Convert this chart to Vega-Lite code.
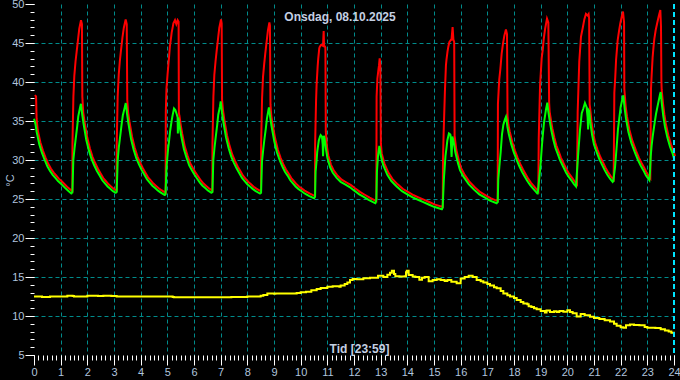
{
"$schema": "https://vega.github.io/schema/vega-lite/v6.json",
"width": 640, "height": 351,
"autosize": {"type": "none"},
"padding": {"left": 34, "top": 4, "right": 6, "bottom": 25},
"background": "#000000",
"title": {"text": "Onsdag, 08.10.2025", "anchor": "middle", "offset": -31, "baseline": "middle", "dx": -14, "fontSize": 12, "fontWeight": "bold", "font": "Liberation Sans", "color": "#c4cfe2"},
"config": {"view": {"stroke": null}, "axis": {"domain": false, "labelFont": "Liberation Sans", "titleFont": "Liberation Sans"}},
"datasets": {
"rg": [
{"t":0,"r":38.2,"g":35.3},{"t":0.04,"r":38.0,"g":34.8},{"t":0.06,"r":35.2,"g":34.5},{"t":0.1,"r":33.75,"g":33.6},{"t":0.2,"r":32.15,"g":32.0},{"t":0.3,"r":31.05,"g":30.9},{"t":0.4,"r":30.15,"g":30.0},{"t":0.5,"r":29.35,"g":29.2},{"t":0.6,"r":28.75,"g":28.6},{"t":0.7,"r":28.25,"g":28.1},{"t":0.8,"r":27.85,"g":27.7},{"t":0.9,"r":27.45,"g":27.3},{"t":1.0,"r":27.15,"g":27.0},{"t":1.1,"r":26.8,"g":26.65},{"t":1.2,"r":26.45,"g":26.3},{"t":1.3,"r":26.15,"g":26.0},{"t":1.4,"r":25.85,"g":25.7},
{"t":1.405,"r":32.0,"g":25.7},{"t":1.44,"r":38.0,"g":25.9},{"t":1.475,"r":40.7,"g":30.0},{"t":1.52,"r":42.5,"g":31.5},{"t":1.56,"r":43.7,"g":32.6},{"t":1.62,"r":45.5,"g":34.3},{"t":1.66,"r":46.7,"g":35.6},{"t":1.725,"r":47.8,"g":36.7},{"t":1.76,"r":47.3,"g":37.2},{"t":1.775,"r":38.0,"g":36.7},
{"t":1.81,"r":35.95,"g":35.8},{"t":1.86,"r":34.75,"g":34.6},{"t":1.96,"r":32.75,"g":32.6},{"t":2.06,"r":31.35,"g":31.2},{"t":2.16,"r":30.25,"g":30.1},{"t":2.26,"r":29.45,"g":29.3},{"t":2.36,"r":28.75,"g":28.6},{"t":2.46,"r":28.15,"g":28.0},{"t":2.56,"r":27.55,"g":27.4},{"t":2.66,"r":27.15,"g":27.0},{"t":2.76,"r":26.75,"g":26.6},{"t":2.86,"r":26.45,"g":26.3},{"t":2.96,"r":26.15,"g":26.0},{"t":3.06,"r":25.95,"g":25.8},
{"t":3.065,"r":32.0,"g":25.8},{"t":3.10,"r":38.0,"g":25.9},{"t":3.14,"r":40.8,"g":30.0},{"t":3.18,"r":42.5,"g":31.6},{"t":3.22,"r":43.8,"g":32.7},{"t":3.28,"r":45.6,"g":34.4},{"t":3.33,"r":46.8,"g":35.7},{"t":3.40,"r":47.9,"g":36.7},{"t":3.44,"r":47.3,"g":37.3},{"t":3.46,"r":37.6,"g":36.8},
{"t":3.49,"r":36.05,"g":35.9},{"t":3.54,"r":34.85,"g":34.7},{"t":3.64,"r":32.85,"g":32.7},{"t":3.74,"r":31.45,"g":31.3},{"t":3.84,"r":30.35,"g":30.2},{"t":3.94,"r":29.55,"g":29.4},{"t":4.04,"r":28.85,"g":28.7},{"t":4.14,"r":28.25,"g":28.1},{"t":4.24,"r":27.65,"g":27.5},{"t":4.34,"r":27.25,"g":27.1},{"t":4.44,"r":26.85,"g":26.7},{"t":4.54,"r":26.55,"g":26.4},{"t":4.64,"r":26.25,"g":26.1},{"t":4.74,"r":26.0,"g":25.85},{"t":4.90,"r":25.65,"g":25.5},
{"t":4.905,"r":36.0,"g":25.5},{"t":4.93,"r":39.0,"g":25.6},{"t":4.97,"r":40.8,"g":29.0},{"t":5.0,"r":42.0,"g":30.3},{"t":5.03,"r":43.2,"g":31.5},{"t":5.06,"r":44.5,"g":32.3},{"t":5.1,"r":45.5,"g":33.6},{"t":5.125,"r":46.2,"g":34.2},{"t":5.17,"r":47.0,"g":35.2},{"t":5.19,"r":47.4,"g":35.6},{"t":5.25,"r":47.8,"g":36.6},{"t":5.3,"r":47.3,"g":36.4},{"t":5.35,"r":47.8,"g":35.9},{"t":5.385,"r":47.6,"g":35.5},{"t":5.395,"r":36.0,"g":33.4},{"t":5.41,"r":35.6,"g":35.4},{"t":5.42,"r":35.45,"g":35.3},
{"t":5.47,"r":34.25,"g":34.1},{"t":5.52,"r":33.25,"g":33.1},{"t":5.62,"r":31.55,"g":31.4},{"t":5.72,"r":30.45,"g":30.3},{"t":5.82,"r":29.45,"g":29.3},{"t":5.92,"r":28.85,"g":28.7},{"t":6.02,"r":28.25,"g":28.1},{"t":6.12,"r":27.75,"g":27.6},{"t":6.22,"r":27.25,"g":27.1},{"t":6.32,"r":26.85,"g":26.7},{"t":6.42,"r":26.55,"g":26.4},{"t":6.52,"r":26.25,"g":26.1},{"t":6.65,"r":25.95,"g":25.8},
{"t":6.655,"r":32.0,"g":25.8},{"t":6.69,"r":38.0,"g":25.9},{"t":6.725,"r":40.8,"g":30.0},{"t":6.77,"r":42.5,"g":31.6},{"t":6.81,"r":43.8,"g":32.8},{"t":6.87,"r":45.6,"g":34.5},{"t":6.91,"r":46.8,"g":35.8},{"t":6.975,"r":47.9,"g":36.9},{"t":7.0,"r":47.4,"g":37.5},{"t":7.015,"r":37.6,"g":37.1},
{"t":7.05,"r":36.25,"g":36.1},{"t":7.1,"r":35.05,"g":34.9},{"t":7.2,"r":33.05,"g":32.9},{"t":7.3,"r":31.65,"g":31.5},{"t":7.4,"r":30.55,"g":30.4},{"t":7.5,"r":29.75,"g":29.6},{"t":7.6,"r":29.05,"g":28.9},{"t":7.7,"r":28.45,"g":28.3},{"t":7.8,"r":27.85,"g":27.7},{"t":7.9,"r":27.45,"g":27.3},{"t":8.0,"r":27.05,"g":26.9},{"t":8.1,"r":26.75,"g":26.6},{"t":8.2,"r":26.45,"g":26.3},{"t":8.3,"r":26.2,"g":26.05},{"t":8.475,"r":25.85,"g":25.7},
{"t":8.48,"r":32.0,"g":25.7},{"t":8.515,"r":37.8,"g":25.8},{"t":8.55,"r":40.5,"g":29.8},{"t":8.595,"r":42.2,"g":31.3},{"t":8.635,"r":43.5,"g":32.5},{"t":8.695,"r":45.3,"g":34.1},{"t":8.735,"r":46.5,"g":35.3},{"t":8.79,"r":47.5,"g":36.4},{"t":8.81,"r":47.1,"g":36.75},{"t":8.83,"r":37.0,"g":36.2},
{"t":8.86,"r":35.55,"g":35.4},{"t":8.91,"r":34.45,"g":34.3},{"t":9.01,"r":32.55,"g":32.4},{"t":9.11,"r":31.15,"g":31.0},{"t":9.21,"r":30.15,"g":30.0},{"t":9.31,"r":29.35,"g":29.2},{"t":9.41,"r":28.65,"g":28.5},{"t":9.51,"r":28.15,"g":28.0},{"t":9.61,"r":27.55,"g":27.4},{"t":9.71,"r":27.15,"g":27.0},{"t":9.81,"r":26.75,"g":26.6},{"t":9.91,"r":26.45,"g":26.3},{"t":10.01,"r":26.2,"g":26.05},{"t":10.11,"r":25.95,"g":25.8},{"t":10.21,"r":25.75,"g":25.6},{"t":10.31,"r":25.55,"g":25.4},{"t":10.5,"r":25.25,"g":25.1},
{"t":10.505,"r":32.0,"g":25.1},{"t":10.54,"r":37.5,"g":25.3},{"t":10.56,"r":39.5,"g":28.5},{"t":10.6,"r":41.9,"g":30.0},{"t":10.62,"r":42.8,"g":31.0},{"t":10.66,"r":44.2,"g":32.0},{"t":10.68,"r":44.4,"g":32.5},{"t":10.725,"r":44.6,"g":33.0},{"t":10.75,"r":44.6,"g":33.2},{"t":10.8,"r":44.5,"g":33.0},{"t":10.825,"r":46.4,"g":32.0},{"t":10.84,"r":44.6,"g":30.5},{"t":10.87,"r":44.4,"g":33.1},{"t":10.89,"r":44.3,"g":32.9},{"t":10.905,"r":33.5,"g":32.6},
{"t":10.95,"r":31.55,"g":31.4},{"t":11.0,"r":30.45,"g":30.3},{"t":11.1,"r":29.25,"g":29.1},{"t":11.2,"r":28.55,"g":28.4},{"t":11.35,"r":27.85,"g":27.7},{"t":11.5,"r":27.35,"g":27.2},{"t":11.65,"r":27.05,"g":26.9},{"t":11.85,"r":26.65,"g":26.5},{"t":12.0,"r":26.25,"g":26.1},{"t":12.2,"r":25.75,"g":25.6},{"t":12.35,"r":25.45,"g":25.3},{"t":12.55,"r":25.05,"g":24.9},{"t":12.8,"r":24.6,"g":24.45},
{"t":12.81,"r":38.0,"g":24.5},{"t":12.84,"r":40.3,"g":25.0},{"t":12.86,"r":40.9,"g":28.5},{"t":12.88,"r":41.5,"g":29.5},{"t":12.9,"r":42.0,"g":30.5},{"t":12.925,"r":42.9,"g":31.2},{"t":12.95,"r":42.0,"g":31.8},{"t":12.97,"r":32.0,"g":31.5},
{"t":13.0,"r":30.75,"g":30.6},{"t":13.1,"r":29.45,"g":29.3},{"t":13.25,"r":28.25,"g":28.1},{"t":13.4,"r":27.45,"g":27.3},{"t":13.6,"r":26.75,"g":26.6},{"t":13.8,"r":26.15,"g":26.0},{"t":14.0,"r":25.75,"g":25.6},{"t":14.2,"r":25.35,"g":25.2},{"t":14.4,"r":25.05,"g":24.9},{"t":14.6,"r":24.75,"g":24.6},{"t":14.8,"r":24.45,"g":24.3},{"t":15.0,"r":24.15,"g":24.0},{"t":15.29,"r":23.85,"g":23.7},
{"t":15.3,"r":30.0,"g":23.7},{"t":15.325,"r":33.4,"g":23.9},{"t":15.37,"r":38.5,"g":27.5},{"t":15.41,"r":42.0,"g":29.5},{"t":15.43,"r":42.7,"g":30.5},{"t":15.47,"r":43.8,"g":31.6},{"t":15.5,"r":44.4,"g":32.5},{"t":15.54,"r":45.0,"g":33.1},{"t":15.56,"r":45.1,"g":33.4},{"t":15.6,"r":45.3,"g":33.3},{"t":15.62,"r":45.3,"g":33.2},{"t":15.66,"r":46.9,"g":30.4},{"t":15.69,"r":45.3,"g":33.0},{"t":15.72,"r":45.0,"g":32.6},{"t":15.735,"r":33.0,"g":32.4},
{"t":15.8,"r":31.15,"g":31.0},{"t":15.9,"r":29.75,"g":29.6},{"t":15.975,"r":28.85,"g":28.7},{"t":16.1,"r":28.05,"g":27.9},{"t":16.3,"r":27.05,"g":26.9},{"t":16.5,"r":26.35,"g":26.2},{"t":16.7,"r":25.75,"g":25.6},{"t":16.9,"r":25.35,"g":25.2},{"t":17.1,"r":24.95,"g":24.8},{"t":17.35,"r":24.6,"g":24.45},
{"t":17.36,"r":37.0,"g":24.5},{"t":17.39,"r":39.0,"g":24.6},{"t":17.41,"r":40.2,"g":27.5},{"t":17.45,"r":41.5,"g":29.1},{"t":17.5,"r":43.5,"g":31.0},{"t":17.55,"r":44.8,"g":33.3},{"t":17.6,"r":45.8,"g":34.5},{"t":17.66,"r":46.6,"g":35.2},{"t":17.7,"r":46.0,"g":35.55},{"t":17.72,"r":35.5,"g":35.2},
{"t":17.75,"r":34.45,"g":34.3},{"t":17.8,"r":33.55,"g":33.4},{"t":17.9,"r":32.15,"g":32.0},{"t":18.0,"r":31.05,"g":30.9},{"t":18.1,"r":30.15,"g":30.0},{"t":18.2,"r":29.35,"g":29.2},{"t":18.3,"r":28.65,"g":28.5},{"t":18.4,"r":28.05,"g":27.9},{"t":18.5,"r":27.45,"g":27.3},{"t":18.6,"r":26.95,"g":26.8},{"t":18.7,"r":26.55,"g":26.4},{"t":18.8,"r":26.15,"g":26.0},{"t":18.875,"r":25.85,"g":25.7},
{"t":18.89,"r":32.6,"g":25.7},{"t":18.94,"r":39.5,"g":27.4},{"t":19.0,"r":42.9,"g":29.6},{"t":19.04,"r":44.0,"g":31.5},{"t":19.075,"r":45.3,"g":33.0},{"t":19.125,"r":46.6,"g":34.8},{"t":19.2,"r":48.0,"g":36.5},{"t":19.25,"r":47.5,"g":37.35},{"t":19.28,"r":37.2,"g":36.4},
{"t":19.3,"r":36.05,"g":35.9},{"t":19.35,"r":34.95,"g":34.8},{"t":19.4,"r":33.95,"g":33.8},{"t":19.475,"r":32.75,"g":32.6},{"t":19.55,"r":31.75,"g":31.6},{"t":19.65,"r":30.85,"g":30.7},{"t":19.725,"r":30.15,"g":30.0},{"t":19.85,"r":29.25,"g":29.1},{"t":19.95,"r":28.55,"g":28.4},{"t":20.04,"r":28.05,"g":27.9},{"t":20.15,"r":27.55,"g":27.4},{"t":20.25,"r":27.05,"g":26.9},{"t":20.325,"r":26.75,"g":26.6},
{"t":20.35,"r":36.0,"g":27.9},{"t":20.41,"r":42.5,"g":30.9},{"t":20.475,"r":45.7,"g":33.9},{"t":20.54,"r":46.8,"g":36.0},{"t":20.6,"r":47.9,"g":36.6},{"t":20.66,"r":48.6,"g":37.3},{"t":20.72,"r":48.4,"g":36.8},{"t":20.76,"r":48.6,"g":35.5},{"t":20.78,"r":48.0,"g":33.9},{"t":20.8,"r":37.0,"g":36.4},
{"t":20.82,"r":36.45,"g":36.3},{"t":20.87,"r":34.75,"g":34.6},{"t":20.93,"r":33.35,"g":33.2},{"t":21.0,"r":32.15,"g":32.0},{"t":21.1,"r":31.15,"g":31.0},{"t":21.2,"r":30.25,"g":30.1},{"t":21.3,"r":29.55,"g":29.4},{"t":21.4,"r":28.85,"g":28.7},{"t":21.5,"r":28.25,"g":28.1},{"t":21.6,"r":27.75,"g":27.6},{"t":21.7,"r":27.35,"g":27.2},
{"t":21.725,"r":38.5,"g":27.3},{"t":21.76,"r":40.5,"g":28.3},{"t":21.79,"r":42.7,"g":29.1},{"t":21.85,"r":45.2,"g":31.7},{"t":21.9,"r":46.4,"g":34.0},{"t":21.95,"r":47.4,"g":35.4},{"t":22.0,"r":48.2,"g":36.8},{"t":22.05,"r":48.9,"g":37.6},{"t":22.09,"r":47.5,"g":38.1},{"t":22.1,"r":39.0,"g":38.3},
{"t":22.15,"r":36.75,"g":36.6},{"t":22.2,"r":35.45,"g":35.3},{"t":22.29,"r":33.75,"g":33.6},{"t":22.4,"r":32.35,"g":32.2},{"t":22.54,"r":31.05,"g":30.9},{"t":22.65,"r":30.15,"g":30.0},{"t":22.75,"r":29.45,"g":29.3},{"t":22.85,"r":28.85,"g":28.7},{"t":22.95,"r":28.15,"g":28.0},{"t":23.075,"r":27.55,"g":27.4},
{"t":23.1,"r":39.0,"g":28.5},{"t":23.125,"r":40.8,"g":30.4},{"t":23.16,"r":43.0,"g":31.8},{"t":23.2,"r":44.6,"g":33.0},{"t":23.225,"r":45.4,"g":33.6},{"t":23.275,"r":46.5,"g":34.8},{"t":23.325,"r":47.3,"g":35.9},{"t":23.39,"r":48.3,"g":37.0},{"t":23.45,"r":49.1,"g":38.0},{"t":23.475,"r":47.0,"g":38.4},{"t":23.49,"r":40.0,"g":38.6},{"t":23.5,"r":38.85,"g":38.7},
{"t":23.55,"r":37.15,"g":37.0},{"t":23.6,"r":35.75,"g":35.6},{"t":23.66,"r":34.45,"g":34.3},{"t":23.75,"r":33.05,"g":32.9},{"t":23.85,"r":31.85,"g":31.7},{"t":23.95,"r":30.95,"g":30.8},{"t":24.0,"r":30.35,"g":30.2}
],
"yel": [
{"t":0,"v":12.5},{"t":0.3,"v":12.45},{"t":0.6,"v":12.5},{"t":1.25,"v":12.6},{"t":1.45,"v":12.55},{"t":1.5,"v":12.5},{"t":2.0,"v":12.6},{"t":2.4,"v":12.55},{"t":2.6,"v":12.6},{"t":2.9,"v":12.55},{"t":3.1,"v":12.5},{"t":4.0,"v":12.5},{"t":5.2,"v":12.45},{"t":5.25,"v":12.4},{"t":7.4,"v":12.45},{"t":8.0,"v":12.5},{"t":8.5,"v":12.6},{"t":8.6,"v":12.7},{"t":8.75,"v":12.9},{"t":9.0,"v":12.85},{"t":9.05,"v":12.9},{"t":9.85,"v":12.95},{"t":10.0,"v":13.05},{"t":10.2,"v":13.1},{"t":10.4,"v":13.3},{"t":10.6,"v":13.45},{"t":10.75,"v":13.6},{"t":11.0,"v":13.75},{"t":11.2,"v":13.8},{"t":11.45,"v":13.75},{"t":11.5,"v":13.9},{"t":11.65,"v":14.1},{"t":11.75,"v":14.3},{"t":11.85,"v":14.6},{"t":11.95,"v":14.75},{"t":12.1,"v":14.7},{"t":12.35,"v":14.85},{"t":12.6,"v":14.9},{"t":12.9,"v":15.15},{"t":13.1,"v":15.0},{"t":13.25,"v":15.3},{"t":13.35,"v":15.55},{"t":13.42,"v":15.8},{"t":13.5,"v":15.4},{"t":13.55,"v":15.1},{"t":13.7,"v":15.05},{"t":13.9,"v":15.1},{"t":13.95,"v":15.6},{"t":13.98,"v":15.8},{"t":14.05,"v":15.25},{"t":14.2,"v":15.05},{"t":14.3,"v":15.0},{"t":14.45,"v":14.65},{"t":14.55,"v":14.9},{"t":14.65,"v":15.0},{"t":14.8,"v":14.45},{"t":14.95,"v":14.6},{"t":15.1,"v":14.7},{"t":15.25,"v":14.6},{"t":15.4,"v":14.5},{"t":15.5,"v":14.6},{"t":15.65,"v":14.4},{"t":15.85,"v":14.2},{"t":16.0,"v":14.8},{"t":16.15,"v":15.0},{"t":16.3,"v":15.15},{"t":16.45,"v":15.0},{"t":16.6,"v":14.6},{"t":16.75,"v":14.45},{"t":16.85,"v":14.3},{"t":17.0,"v":14.1},{"t":17.1,"v":13.9},{"t":17.25,"v":13.7},{"t":17.35,"v":13.55},{"t":17.5,"v":13.2},{"t":17.6,"v":12.9},{"t":17.75,"v":12.65},{"t":17.85,"v":12.5},{"t":18.0,"v":12.3},{"t":18.1,"v":12.05},{"t":18.25,"v":11.8},{"t":18.35,"v":11.6},{"t":18.5,"v":11.5},{"t":18.55,"v":11.25},{"t":18.65,"v":11.15},{"t":18.75,"v":11.0},{"t":18.85,"v":10.85},{"t":19.0,"v":10.65},{"t":19.16,"v":10.45},{"t":19.22,"v":10.7},{"t":19.35,"v":10.5},{"t":19.5,"v":10.6},{"t":19.6,"v":10.5},{"t":19.7,"v":10.65},{"t":19.85,"v":10.55},{"t":20.0,"v":10.75},{"t":20.1,"v":10.5},{"t":20.2,"v":10.35},{"t":20.35,"v":9.95},{"t":20.5,"v":10.25},{"t":20.65,"v":10.1},{"t":20.85,"v":9.9},{"t":21.0,"v":9.75},{"t":21.2,"v":9.6},{"t":21.4,"v":9.45},{"t":21.6,"v":9.3},{"t":21.75,"v":9.0},{"t":21.85,"v":8.75},{"t":22.0,"v":8.55},{"t":22.1,"v":8.5},{"t":22.2,"v":8.8},{"t":22.35,"v":8.9},{"t":22.5,"v":8.85},{"t":22.7,"v":8.8},{"t":22.9,"v":8.6},{"t":23.0,"v":8.5},{"t":23.3,"v":8.45},{"t":23.5,"v":8.3},{"t":23.66,"v":8.15},{"t":23.8,"v":8.0},{"t":23.9,"v":7.85},{"t":24.0,"v":7.6}
],
"now": [{"t": 24}]
},
"layer": [
{"data": {"name": "yel"}, "mark": {"type": "line", "color": "#ffff00", "strokeWidth": 2, "interpolate": "step-after"},
 "encoding": {
  "x": {"field": "t", "type": "quantitative", "scale": {"domain": [0, 24], "nice": false}, "axis": {"orient": "bottom", "values": [0,1,2,3,4,5,6,7,8,9,10,11,12,13,14,15,16,17,18,19,20,21,22,23,24], "tickSize": 10, "tickColor": "#ffffff", "tickWidth": 1, "labelColor": "#b0c4de", "labelFontSize": 11, "labelPadding": 1, "labelFlush": false, "labelOverlap": false, "grid": false, "domain": false, "title": "Tid [23:59]", "titleColor": "#c4cfe2", "titleFontSize": 12, "titleFontWeight": "bold", "titleX": 325, "titleY": -7, "titleBaseline": "middle"}},
  "y": {"field": "v", "type": "quantitative", "scale": {"domain": [5, 50], "nice": false, "zero": false}, "axis": {"orient": "left", "values": [5,10,15,20,25,30,35,40,45,50], "tickSize": 9, "tickColor": "#ffffff", "tickWidth": 1, "labelColor": "#b0c4de", "labelFontSize": 11, "labelPadding": 1, "labelFlush": false, "labelOverlap": false, "grid": false, "domain": false, "title": "°C", "titleColor": "#b0c4de", "titleFontSize": 11, "titleFontWeight": "normal", "titleX": -24, "titleY": 176, "titleBaseline": "middle"}}
 }},
{"data": {"name": "rg"}, "mark": {"type": "line", "color": "#ff0000", "strokeWidth": 2, "xOffset": 1, "yOffset": -1},
 "encoding": {
  "x": {"field": "t", "type": "quantitative", "scale": {"domain": [0, 24], "nice": false}, "axis": {"orient": "bottom", "values": [0,0.1667,0.3333,0.5,0.6667,0.8333,1,1.1667,1.3333,1.5,1.6667,1.8333,2,2.1667,2.3333,2.5,2.6667,2.8333,3,3.1667,3.3333,3.5,3.6667,3.8333,4,4.1667,4.3333,4.5,4.6667,4.8333,5,5.1667,5.3333,5.5,5.6667,5.8333,6,6.1667,6.3333,6.5,6.6667,6.8333,7,7.1667,7.3333,7.5,7.6667,7.8333,8,8.1667,8.3333,8.5,8.6667,8.8333,9,9.1667,9.3333,9.5,9.6667,9.8333,10,10.1667,10.3333,10.5,10.6667,10.8333,11,11.1667,11.3333,11.5,11.6667,11.8333,12,12.1667,12.3333,12.5,12.6667,12.8333,13,13.1667,13.3333,13.5,13.6667,13.8333,14,14.1667,14.3333,14.5,14.6667,14.8333,15,15.1667,15.3333,15.5,15.6667,15.8333,16,16.1667,16.3333,16.5,16.6667,16.8333,17,17.1667,17.3333,17.5,17.6667,17.8333,18,18.1667,18.3333,18.5,18.6667,18.8333,19,19.1667,19.3333,19.5,19.6667,19.8333,20,20.1667,20.3333,20.5,20.6667,20.8333,21,21.1667,21.3333,21.5,21.6667,21.8333,22,22.1667,22.3333,22.5,22.6667,22.8333,23,23.1667,23.3333,23.5,23.6667,23.8333,24], "tickSize": 5, "tickColor": "#ffffff", "tickWidth": 1, "labels": false, "grid": false, "domain": false, "title": null}},
  "y": {"field": "r", "type": "quantitative", "scale": {"domain": [5, 50], "nice": false, "zero": false}, "axis": {"orient": "left", "values": [5,6,7,8,9,10,11,12,13,14,15,16,17,18,19,20,21,22,23,24,25,26,27,28,29,30,31,32,33,34,35,36,37,38,39,40,41,42,43,44,45,46,47,48,49,50], "tickSize": 4, "tickColor": "#ffffff", "tickWidth": 1, "labels": false, "grid": false, "domain": false, "title": null}}
 }},
{"data": {"name": "rg"}, "mark": {"type": "line", "color": "#00ff00", "strokeWidth": 2},
 "encoding": {
  "x": {"field": "t", "type": "quantitative", "scale": {"domain": [0, 24], "nice": false}, "axis": {"orient": "bottom", "values": [1,2,3,4,5,6,7,8,9,10,11,12,13,14,15,16,17,18,19,20,21,22,23], "ticks": false, "labels": false, "grid": true, "gridColor": "#008b8b", "gridDash": [4, 3], "gridWidth": 1, "domain": false, "title": null}},
  "y": {"field": "g", "type": "quantitative", "scale": {"domain": [5, 50], "nice": false, "zero": false}, "axis": {"orient": "left", "values": [10,15,20,25,30,35,40,45], "ticks": false, "labels": false, "grid": true, "gridColor": "#008b8b", "gridDash": [4, 3], "gridWidth": 1, "domain": false, "title": null}}
 }},
{"data": {"name": "now"}, "mark": {"type": "rule", "color": "#00e5ff", "strokeWidth": 2, "strokeDash": [5, 3]},
 "encoding": {"x": {"field": "t", "type": "quantitative", "scale": {"domain": [0, 24], "nice": false}, "axis": null}}}
],
"resolve": {"axis": {"x": "independent", "y": "independent"}}
}
